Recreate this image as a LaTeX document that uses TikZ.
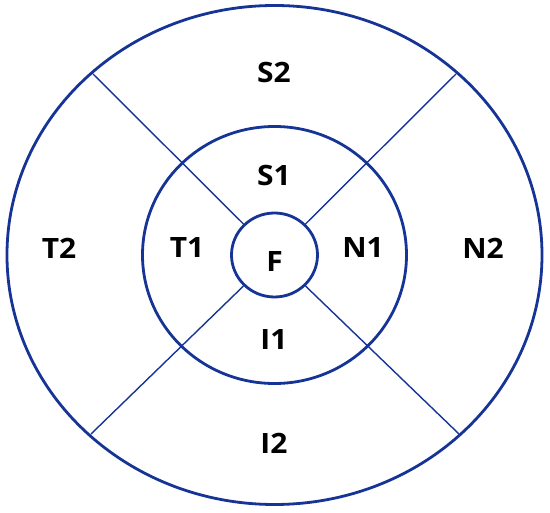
\documentclass[tikz,border=0pt]{standalone}
\usepackage{fontspec}
\setmainfont{Open Sans}
\definecolor{ringblue}{RGB}{22,52,150}
\begin{document}
\begin{tikzpicture}[x=1pt,y=1pt,
  ring/.style={draw=ringblue,line width=2.8pt},
  spoke/.style={draw=ringblue,line width=1.4pt},
  lbl/.style={inner sep=0pt,font=\bfseries\fontsize{28}{28}\selectfont,text=black,xscale=1.07}]
\useasboundingbox (0,0) rectangle (550,-513);
\coordinate (c) at (274.5,-255);
\draw[ring] (c) ellipse [x radius=267.5, y radius=249.5];
\draw[ring] (c) ellipse [x radius=132, y radius=128.5];
\draw[ring] (c) ellipse [x radius=43, y radius=42];
% spokes
\coordinate (ulin) at (243.5,-224);
\coordinate (urin) at (305.5,-224);
\coordinate (llin) at (243.5,-286);
\coordinate (lrin) at (305.5,-286);
\coordinate (ulout) at (93,-74);
\coordinate (urout) at (456,-74);
\coordinate (llout) at (91,-434);
\coordinate (lrout) at (459,-434);
\draw[spoke] (ulin) -- (ulout);
\draw[spoke] (urin) -- (urout);
\draw[spoke] (llin) -- (llout);
\draw[spoke] (lrin) -- (lrout);
% labels
\node[lbl] (S2) at (274,-73) {S2};
\node[lbl] (S1) at (274,-176) {S1};
\node[lbl] (T2) at (59,-248) {T2};
\node[lbl] (T1) at (187,-248) {T1};
\node[lbl] (F) at (274.5,-262) {F};
\node[lbl] (N1) at (363,-248) {N1};
\node[lbl] (N2) at (483,-248) {N2};
\node[lbl] (I1) at (274,-340) {I1};
\node[lbl] (I2) at (274,-443) {I2};
\end{tikzpicture}
\end{document}
